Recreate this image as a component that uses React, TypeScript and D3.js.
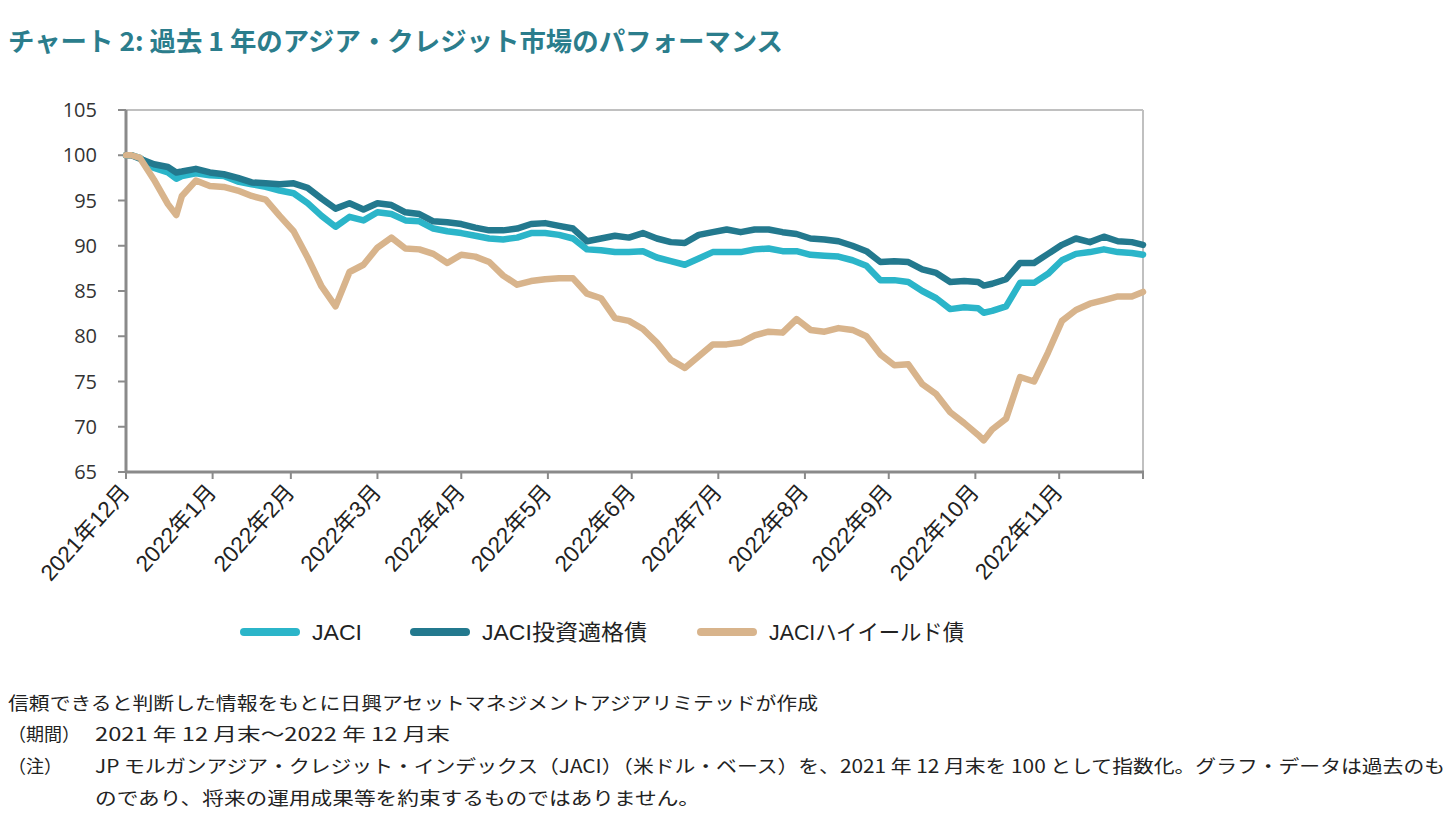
import React from "react";
import * as d3 from "d3";

const dates = ["2021-12-31","2022-01-02","2022-01-05","2022-01-10","2022-01-15","2022-01-18","2022-01-20","2022-01-25","2022-01-30","2022-02-04","2022-02-09","2022-02-14","2022-02-19","2022-02-24","2022-03-01","2022-03-06","2022-03-11","2022-03-16","2022-03-21","2022-03-26","2022-03-31","2022-04-05","2022-04-10","2022-04-15","2022-04-20","2022-04-25","2022-04-30","2022-05-05","2022-05-10","2022-05-15","2022-05-20","2022-05-25","2022-05-30","2022-06-04","2022-06-09","2022-06-14","2022-06-19","2022-06-24","2022-06-29","2022-07-04","2022-07-09","2022-07-14","2022-07-19","2022-07-24","2022-07-29","2022-08-03","2022-08-08","2022-08-13","2022-08-18","2022-08-23","2022-08-28","2022-09-02","2022-09-07","2022-09-12","2022-09-17","2022-09-22","2022-09-27","2022-10-02","2022-10-07","2022-10-12","2022-10-17","2022-10-22","2022-10-27","2022-11-01","2022-11-03","2022-11-06","2022-11-11","2022-11-16","2022-11-21","2022-11-26","2022-12-01","2022-12-06","2022-12-11","2022-12-16","2022-12-21","2022-12-26","2022-12-30"];

const jaci = [100,100,99.7,98.6,98.1,97.4,97.7,98.0,97.8,97.7,97.1,96.8,96.5,96.1,95.8,94.7,93.3,92.1,93.2,92.8,93.7,93.5,92.8,92.7,91.9,91.6,91.4,91.1,90.8,90.7,90.9,91.4,91.4,91.2,90.8,89.6,89.5,89.3,89.3,89.4,88.7,88.3,87.9,88.6,89.3,89.3,89.3,89.6,89.7,89.4,89.4,89.0,88.9,88.8,88.4,87.8,86.2,86.2,86.0,85.0,84.2,83.0,83.2,83.1,82.6,82.8,83.3,85.9,85.9,86.9,88.4,89.1,89.3,89.6,89.3,89.2,89.0];

const jaciIG = [100,100,99.6,99.0,98.7,98.1,98.2,98.5,98.1,97.9,97.5,97.0,96.9,96.8,96.9,96.4,95.2,94.1,94.7,94.0,94.7,94.5,93.7,93.5,92.7,92.6,92.4,92.0,91.7,91.7,91.9,92.4,92.5,92.2,91.9,90.5,90.8,91.1,90.9,91.4,90.8,90.4,90.3,91.2,91.5,91.8,91.5,91.8,91.8,91.5,91.3,90.8,90.7,90.5,90.0,89.4,88.2,88.3,88.2,87.4,87.0,86.0,86.1,86.0,85.6,85.8,86.3,88.1,88.1,89.1,90.1,90.8,90.4,91.0,90.5,90.4,90.1];

const jaciHY = [100,100,99.7,97.3,94.6,93.4,95.5,97.2,96.6,96.5,96.1,95.5,95.1,93.3,91.6,88.7,85.5,83.3,87.1,87.9,89.8,90.9,89.7,89.6,89.1,88.1,89.0,88.8,88.2,86.7,85.7,86.1,86.3,86.4,86.4,84.7,84.2,82.0,81.7,80.8,79.3,77.4,76.5,77.8,79.1,79.1,79.3,80.1,80.5,80.4,81.9,80.7,80.5,80.9,80.7,80.0,78.0,76.8,76.9,74.7,73.6,71.6,70.4,69.1,68.5,69.7,70.9,75.5,75.0,78.2,81.7,82.9,83.6,84.0,84.4,84.4,84.9];

const seriesNames = ["JACI", "JACI投資適格債", "JACIハイイールド債"];
const seriesColors = ["#2bb5c9", "#23798e", "#d8b48c"];

const tickDates = ["2021-12-31","2022-01-31","2022-02-28","2022-03-31","2022-04-30","2022-05-31","2022-06-30","2022-07-31","2022-08-31","2022-09-30","2022-10-31","2022-11-30"];
const tickLabels = ["2021年12月","2022年1月","2022年2月","2022年3月","2022年4月","2022年5月","2022年6月","2022年7月","2022年8月","2022年9月","2022年10月","2022年11月"];
const yTicks = [65, 70, 75, 80, 85, 90, 95, 100, 105];

const title = "チャート 2: 過去 1 年のアジア・クレジット市場のパフォーマンス";
const notes = [
  "信頼できると判断した情報をもとに日興アセットマネジメントアジアリミテッドが作成",
  "2021 年 12 月末～2022 年 12 月末",
  "JP モルガンアジア・クレジット・インデックス（JACI）（米ドル・ベース）を、2021 年  12 月末を 100 として指数化。グラフ・データは過去のも",
  "のであり、将来の運用成果等を約束するものではありません。",
];

const W = 1456, H = 834;
const L = 126, R = 1143, T = 110, B = 472;
const parse = d3.timeParse("%Y-%m-%d");
const FONT = "'Liberation Sans', Arial, 'Noto Sans CJK JP', sans-serif";
const JFONT = "'Noto Sans CJK JP', 'Liberation Sans', sans-serif";

export default function App() {
  const x = d3.scaleTime().domain([parse(dates[0])!, parse(dates[dates.length - 1])!]).range([L, R]);
  const y = d3.scaleLinear().domain([65, 105]).range([B, T]);
  const allSeries = [jaci, jaciIG, jaciHY];
  const line = d3.line<number>()
    .x((_, i) => x(parse(dates[i])!))
    .y((v) => y(v))
    .curve(d3.curveLinear);

  const legendX = [240, 410, 697];
  const legendLen = [50, 165, 195];

  return (
    <svg width={W} height={H} style={{ position: "absolute", left: 0, top: 0, background: "#fff" }}>
      <rect width={W} height={H} fill="#fff" />
      <text x={8} y={51} fontFamily={JFONT} fontWeight={700} fontSize={26} fill="#2b7d8c" textLength={775} lengthAdjust="spacingAndGlyphs">{title}</text>

      {/* frame */}
      <line x1={L} x2={R} y1={T} y2={T} stroke="#c0c0c0" strokeWidth={2} />
      <line x1={R} x2={R} y1={T} y2={B} stroke="#c0c0c0" strokeWidth={2} />

      {/* y ticks */}
      {yTicks.map((t) => (
        <g key={t}>
          <line x1={L - 8} x2={L} y1={y(t)} y2={y(t)} stroke="#8a8a8a" strokeWidth={2} />
          <text x={97} y={y(t)} dy="0.35em" textAnchor="end" fontFamily="'Open Sans', sans-serif" fontSize={20} fill="#333">{t}</text>
        </g>
      ))}

      {/* x ticks */}
      {tickDates.map((d, i) => {
        const xx = x(parse(d)!);
        return (
          <g key={d}>
            <line x1={xx} x2={xx} y1={B} y2={B + 7} stroke="#8a8a8a" strokeWidth={2} />
            <text transform={`translate(${xx + 5},${B + 21}) rotate(-48)`} textAnchor="end" fontFamily={FONT} fontSize={22.5} fill="#222">{tickLabels[i]}</text>
          </g>
        );
      })}
      <line x1={R} x2={R} y1={B} y2={B + 7} stroke="#8a8a8a" strokeWidth={2} />

      {/* axes */}
      <line x1={L} x2={L} y1={T} y2={B + 1} stroke="#8a8a8a" strokeWidth={3} />
      <line x1={L - 1} x2={R + 1} y1={B} y2={B} stroke="#8a8a8a" strokeWidth={3} />

      {/* lines */}
      {allSeries.map((s, k) => (
        <path key={k} d={line(s) ?? ""} fill="none" stroke={seriesColors[k]} strokeWidth={6.5} strokeLinejoin="round" strokeLinecap="round" />
      ))}

      {/* legend */}
      {seriesNames.map((n, k) => (
        <g key={n}>
          <line x1={legendX[k] + 4} x2={legendX[k] + 56} y1={632} y2={632} stroke={seriesColors[k]} strokeWidth={8} strokeLinecap="round" />
          <text x={legendX[k] + 72} y={632} dy="0.36em" fontFamily={FONT} fontSize={22} fill="#222" textLength={legendLen[k]} lengthAdjust="spacingAndGlyphs">{n}</text>
        </g>
      ))}

      {/* notes */}
      <g fontFamily={JFONT} fontSize={18} fill="#222">
        <text x={8} y={710} textLength={810} lengthAdjust="spacingAndGlyphs">{notes[0]}</text>
        <text x={8} y={741}>（期間）</text>
        <text x={95} y={741} textLength={355} lengthAdjust="spacingAndGlyphs">{notes[1]}</text>
        <text x={8} y={773}>（注）</text>
        <text x={95} y={773} textLength={1350} lengthAdjust="spacingAndGlyphs">{notes[2]}</text>
        <text x={95} y={805} textLength={605} lengthAdjust="spacingAndGlyphs">{notes[3]}</text>
      </g>
    </svg>
  );
}
